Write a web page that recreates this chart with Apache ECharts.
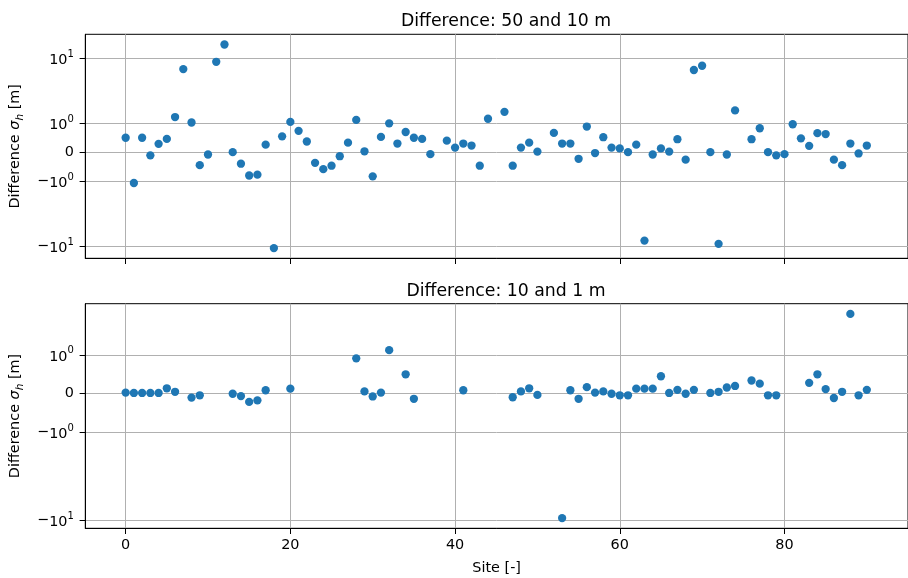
<!DOCTYPE html>
<html>
<head>
<meta charset="utf-8">
<script src="https://cdn.jsdelivr.net/npm/echarts@6/dist/echarts.min.js"></script>
<style>html,body{margin:0;padding:0;background:#fff}#c{width:908px;height:578px}</style>
</head>
<body>
<div id="c"></div>
<script>
// ---- data ----
const sites = Array.from({length: 91}, (_, i) => i);
const diff50_10 = [0.5,-1.07,0.5,-0.11,0.29,0.46,1.22,6.2,1.03,-0.45,
  -0.08,8.58,18.5,0.0,-0.40,-0.81,-0.78,0.26,-10.98,0.55,
  1.05,0.74,0.37,-0.37,-0.59,-0.47,-0.14,0.33,1.12,0.03,
  -0.84,0.53,1.0,0.30,0.70,0.50,0.46,-0.07,null,0.40,
  0.16,0.30,0.23,-0.47,1.16,null,1.40,-0.47,0.16,0.33,
  0.02,null,0.67,0.30,0.30,-0.23,0.89,-0.03,0.52,0.16,
  0.13,0.0,0.26,-7.85,-0.08,0.13,0.02,0.45,-0.26,5.95,
  7.19,0.0,-9.08,-0.08,1.45,null,0.45,0.83,0.0,-0.11,
  -0.07,0.97,0.48,0.22,0.66,0.63,-0.26,-0.45,0.30,-0.045,
  0.23];
const diff10_1 = [0.03,0.02,0.02,0.02,0.02,0.14,0.05,null,-0.10,-0.04,
  null,null,null,0.0,-0.06,-0.21,-0.17,0.09,null,null,
  0.13,null,null,null,null,null,null,null,0.91,0.06,
  -0.07,0.03,1.12,null,0.50,-0.13,null,null,null,null,
  null,0.09,null,null,null,null,null,-0.09,0.06,0.14,
  -0.03,null,null,-9.26,0.09,-0.13,0.17,0.03,0.06,0.0,
  -0.04,-0.04,0.13,0.13,0.13,0.45,0.02,0.10,0.0,0.10,
  null,0.02,0.05,0.16,0.20,null,0.34,0.26,-0.04,-0.04,
  null,null,null,0.28,0.50,0.12,-0.11,0.05,2.14,-0.04,
  0.10];
const xTicks = [0, 20, 40, 60, 80];
const topYTicks = [-10, -1, 0, 1, 10];
const bottomYTicks = [-10, -1, 0, 1];
const titles = ['Difference: 50 and 10 m', 'Difference: 10 and 1 m'];

// ---- symlog transform (linthresh=2, linscale=1, base=10) ----
const LINTHRESH = 2, LS = 1 / (1 - 1 / 10);
function symlog(v) {
  const a = Math.abs(v);
  return a <= LINTHRESH ? v * LS : Math.sign(v) * LINTHRESH * (LS + Math.log10(a / LINTHRESH));
}
function tickLabel(v) {
  if (v === 0) return '0';
  const e = Math.round(Math.log10(Math.abs(v)));
  return (v < 0 ? '−' : '') + '{b|10}{s|' + e + '}';
}
function makeFormatter(ticks) {
  return function (val) {
    for (const t of ticks) if (Math.abs(symlog(t) - val) < 1e-6) return tickLabel(t);
    return '';
  };
}
function toPoints(vals) {
  const out = [];
  vals.forEach((v, i) => { if (v !== null) out.push([sites[i], symlog(v)]); });
  return out;
}
function range(pts) {
  let lo = Infinity, hi = -Infinity;
  pts.forEach(p => { lo = Math.min(lo, p[1]); hi = Math.max(hi, p[1]); });
  const m = (hi - lo) * 0.05;
  return [lo - m, hi + m];
}

const ptsTop = toPoints(diff50_10);
const ptsBot = toPoints(diff10_1);
const rTop = range(ptsTop), rBot = range(ptsBot);

const FONT = 'DejaVu Sans';
const tickFs = 14.4;
const richLab = {
  b: {fontFamily: FONT, fontSize: tickFs, color: '#000', verticalAlign: 'bottom', lineHeight: 18},
  s: {fontFamily: FONT, fontSize: 10, color: '#000', verticalAlign: 'top', lineHeight: 14}
};

function yAxisDef(gi, r, ticks) {
  return {
    type: 'value', gridIndex: gi, min: r[0], max: r[1],
    name: 'Difference {i|σ}{h|h} [m]', nameLocation: 'middle', nameGap: 46, nameRotate: 90,
    nameTextStyle: {fontFamily: FONT, fontSize: tickFs, color: '#000',
      rich: {
        i: {fontFamily: FONT, fontSize: tickFs, fontStyle: 'italic', color: '#000'},
        h: {fontFamily: FONT, fontSize: 10.5, fontStyle: 'italic', color: '#000', verticalAlign: 'bottom', lineHeight: 22}
      }},
    axisLine: {show: true, onZero: false, lineStyle: {color: '#000', width: 1}},
    axisTick: {show: true, length: 5.7, lineStyle: {color: '#000', width: 1}, customValues: ticks.map(symlog)},
    axisLabel: {show: true, margin: 11.5, customValues: ticks.map(symlog), formatter: makeFormatter(ticks),
      fontFamily: FONT, fontSize: tickFs, color: '#000', rich: richLab},
    splitLine: {show: true, lineStyle: {color: '#b0b0b0', width: 1}}
  };
}
function xAxisDef(gi, showLabels) {
  return {
    type: 'value', gridIndex: gi, min: -4.9, max: 95,
    name: showLabels ? 'Site [-]' : '', nameLocation: 'middle', nameGap: 33,
    nameTextStyle: {fontFamily: FONT, fontSize: tickFs, color: '#000'},
    axisLine: {show: true, onZero: false, lineStyle: {color: '#000', width: 1}},
    axisTick: {show: true, length: 5.7, lineStyle: {color: '#000', width: 1}, customValues: xTicks},
    axisLabel: {show: showLabels, margin: 9.5, customValues: xTicks, fontFamily: FONT, fontSize: tickFs, color: '#000'},
    splitLine: {show: true, lineStyle: {color: '#b0b0b0', width: 1}}
  };
}

const chart = echarts.init(document.getElementById('c'), null, {renderer: 'canvas'});
chart.setOption({
  backgroundColor: '#fff',
  animation: false,
  title: [
    {text: titles[0], left: 501, top: 8, textAlign: 'center',
      textStyle: {fontFamily: FONT, fontSize: 17.3, fontWeight: 'normal', color: '#000'}},
    {text: titles[1], left: 501, top: 278, textAlign: 'center',
      textStyle: {fontFamily: FONT, fontSize: 17.3, fontWeight: 'normal', color: '#000'}}
  ],
  grid: [
    {left: 85.3, top: 34.3, width: 832, height: 224, show: true, borderColor: '#000', borderWidth: 1, backgroundColor: 'transparent'},
    {left: 85.3, top: 303.7, width: 832, height: 224.6, show: true, borderColor: '#000', borderWidth: 1, backgroundColor: 'transparent'}
  ],
  xAxis: [xAxisDef(0, false), xAxisDef(1, true)],
  yAxis: [yAxisDef(0, rTop, topYTicks), yAxisDef(1, rBot, bottomYTicks)],
  series: [
    {type: 'scatter', xAxisIndex: 0, yAxisIndex: 0, data: ptsTop, symbolSize: 8.3,
      itemStyle: {color: '#1f77b4', opacity: 1}, z: 3},
    {type: 'scatter', xAxisIndex: 1, yAxisIndex: 1, data: ptsBot, symbolSize: 8.3,
      itemStyle: {color: '#1f77b4', opacity: 1}, z: 3}
  ]
});
</script>
</body>
</html>
